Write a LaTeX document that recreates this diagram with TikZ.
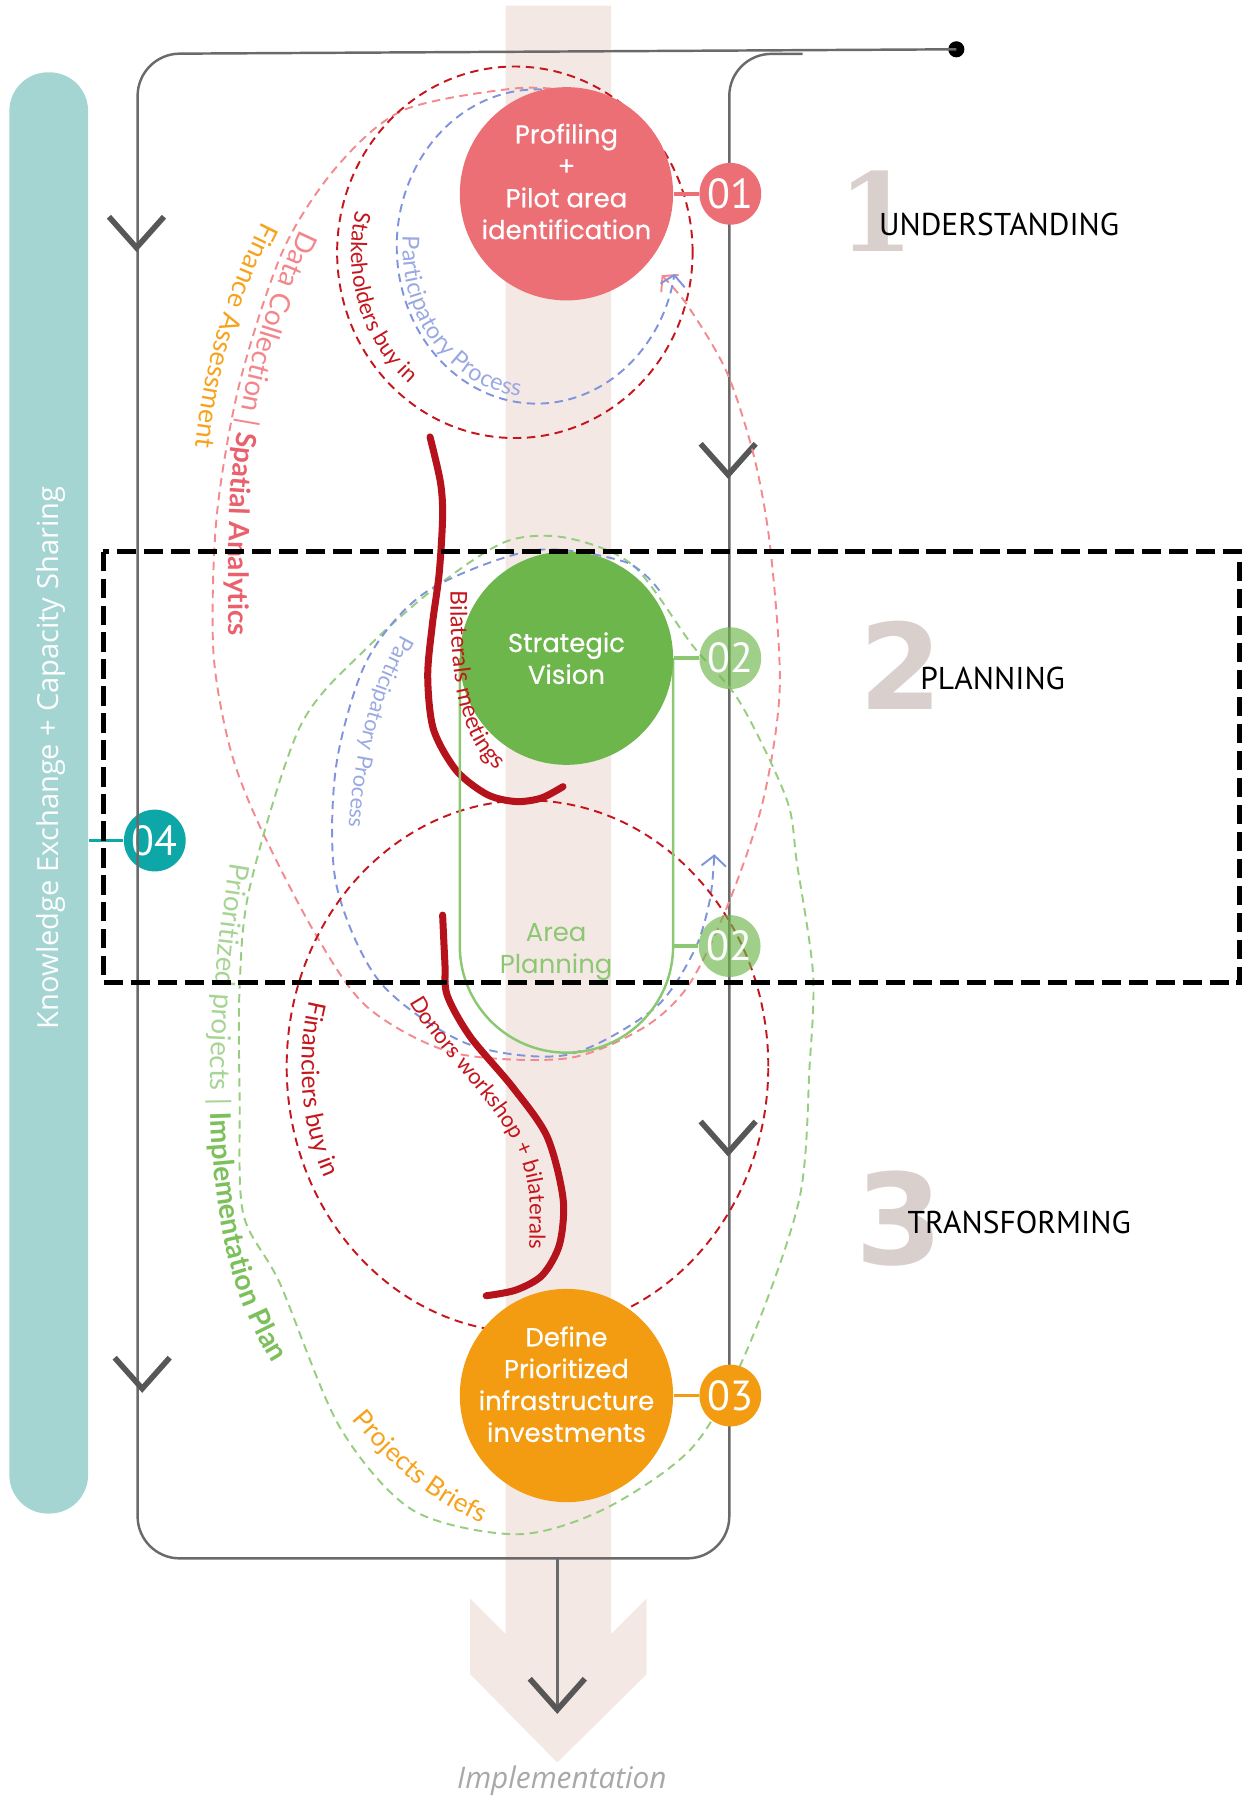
\documentclass[tikz,border=0pt]{standalone}
\usepackage{fontspec}
\setmainfont{Poppins}
\newfontfamily\stagefont{Poppins}[FakeBold=0.5]
\newfontfamily\labelfont{Lato}
\newfontfamily\headfont{PT Sans}
\newfontfamily\sidefont{Open Sans}
\newfontfamily\onefont{DejaVu Serif}
\newfontfamily\numfont{DejaVu Sans}
\usetikzlibrary{positioning,arrows.meta,decorations.text}

\definecolor{bandpink}{HTML}{F3E8E4}
\definecolor{prred}{HTML}{EC6F75}
\definecolor{svgreen}{HTML}{6DB64B}
\definecolor{apgreen}{HTML}{8CC772}
\definecolor{orng}{HTML}{F39C11}
\definecolor{tealbar}{HTML}{A4D5D3}
\definecolor{tealdark}{HTML}{0DA7A7}
\definecolor{numgray}{HTML}{D9CFCC}
\definecolor{chevgray}{HTML}{575757}
\definecolor{loopgray}{HTML}{6A6A6A}
\definecolor{dred}{HTML}{C4161C}
\definecolor{thickred}{HTML}{B5121B}
\definecolor{pinkdash}{HTML}{F28A8E}
\definecolor{pinktxt}{HTML}{F2868B}
\definecolor{pinkbold}{HTML}{E9616C}
\definecolor{bluedash}{HTML}{8094DC}
\definecolor{bluetxt}{HTML}{9AA9E2}
\definecolor{greendash}{HTML}{96CD7E}
\definecolor{greenlt}{HTML}{A6D494}
\definecolor{greenbold}{HTML}{7CC05C}
\definecolor{orngtxt}{HTML}{F7A21D}
\definecolor{impgray}{HTML}{A8A8A8}

\tikzset{
  stagecircle/.style={circle, minimum size=2.14cm, inner sep=0pt, text=white, align=center, font=\stagefont\fontsize{7.4}{9.1}\selectfont},
  stagetext/.style={text=white, align=center, inner sep=0pt, font=\stagefont\fontsize{7.4}{9.1}\selectfont},
  badge/.style={circle, minimum size=0.62cm, inner sep=0pt, text=white, font=\headfont\fontsize{12}{12}\selectfont},
  softbadge/.style={badge, fill=svgreen, fill opacity=0.65, text opacity=1},
  thindash/.style={line width=0.55pt, dash pattern=on 2.4pt off 1.6pt},
  chevron/.style={draw=chevgray, line width=1.6pt},
  loopline/.style={draw=loopgray, line width=0.7pt},
  heading/.style={font=\headfont\fontsize{9}{9}\selectfont, anchor=base west, inner sep=0pt},
  bignum/.style={text=numgray, inner sep=0pt},
  meeting/.style={draw=thickred, line width=2pt, line cap=round},
  barb/.style={-{Straight Barb[length=3pt,width=7pt]}},
  boxdash/.style={line width=1.4pt, dash pattern=on 5.5pt off 2.2pt}
}

\begin{document}
\begin{tikzpicture}[x=0.0115cm, y=0.0115cm]
    \useasboundingbox (0,0) rectangle (1088,-1568);
    % Implementation band with arrow head
    \fill[bandpink] (441,-5) -- (533,-5) -- (533,-1425) -- (564,-1394) -- (564,-1460) -- (486,-1537)
        -- (410,-1460) -- (410,-1394) -- (441,-1425) -- cycle;
    \node[text=impgray, font=\sidefont\itshape\fontsize{8.5}{8.5}\selectfont] (impl) at (490,-1553) {Implementation};
    % Knowledge exchange bar
    \node[fill=tealbar, rounded corners=11pt, minimum width=0.79cm, minimum height=14.46cm, inner sep=0pt] (kbar) at (42.5,-691.5) {};
    \node[rotate=90, text=white, font=\sidefont\fontsize{8.3}{8.3}\selectfont] (kxlabel) at (44,-661) {Knowledge Exchange + Capacity Sharing};
    \node[badge, fill=tealdark] (b4) at (135,-733) {04};
    \draw[tealdark, line width=1pt] (kbar.east |- b4) -- (b4);
    % Stage headings
    \node[bignum, font=\onefont\bfseries\fontsize{31}{31}\selectfont] (n1) at (764,-184) {1};
    \node[heading] (h1) at (766,-205) {UNDERSTANDING};
    \node[bignum, font=\numfont\bfseries\fontsize{34}{34}\selectfont] (n2) at (786,-580) {2};
    \node[heading] (h2) at (802,-601) {PLANNING};
    \node[bignum, font=\numfont\bfseries\fontsize{36}{36}\selectfont] (n3) at (784,-1063) {3};
    \node[heading] (h3) at (791,-1076) {TRANSFORMING};
    % Main loop
    \coordinate (start) at (834,-43);
    \coordinate (exit) at (486,-1359);
    \coordinate (tip) at (486,-1491);
    \fill[black] (start) circle (2.3pt);
    \draw[loopline, rounded corners=12pt] (start) -- (120,-47) -- (120,-1359) -- (636,-1359) -- (636,-47) -- (700,-47);
    \draw[loopline] (exit) -- (tip);
    \foreach \cx/\cy in {119/216, 635/414, 635/1005, 124/1211, 486/1491}
        \draw[chevron] (\cx-24,-\cy+27) -- (\cx,-\cy) -- (\cx+24,-\cy+27);
    % Dashed loops
    \draw[thindash, draw=pinkdash, barb] plot[smooth] coordinates {(505,-80) (450,-77) (352,-96) (294,-145) (247,-218) (209,-334) (189,-450) (186,-567) (200,-650) (224,-715) (273,-811) (320,-878) (395,-918) (494,-923) (560,-897) (600,-860) (634,-791) (665,-700) (680,-600) (672,-480) (658,-400) (634,-325) (600,-267) (577,-240)};
    \draw[thindash, draw=dred] (449,-220) ellipse [x radius=155, y radius=162];
    \draw[thindash, draw=bluedash, barb] (468,-215) ++(65:122 and 137) arc[start angle=65, end angle=350, x radius=122, y radius=137];
    \draw[thindash, draw=greendash] plot[smooth cycle] coordinates {(494,-469) (552,-493) (604,-563) (645,-612) (686,-697) (695,-753) (709,-849) (706,-930) (697,-1046) (652,-1176) (604,-1262) (527,-1316) (451,-1338) (360,-1317) (296,-1244) (244,-1119) (212,-1058) (209,-960) (209,-860) (218,-773) (262,-633) (320,-565) (384,-509) (442,-472)};
    \draw[thindash, draw=bluedash, barb] plot[smooth] coordinates {(575,-515) (545,-490) (465,-480) (372,-516) (320,-576) (293,-669) (293,-770) (331,-856) (407,-910) (494,-920) (570,-880) (605,-830) (619,-785) (623,-745)};
    \draw[thindash, draw=dred] (460,-930) ellipse [x radius=210, y radius=232];
    % Meetings
    \draw[meeting] plot[smooth] coordinates {(375,-381) (384,-420) (386,-450) (383,-500) (377,-545) (373,-590) (378,-636) (398,-672) (425,-693) (450,-699) (472,-696) (491,-686)};
    \draw[meeting] plot[smooth] coordinates {(386,-798) (388,-840) (390,-868) (410,-904) (447,-948) (477,-991) (491,-1045) (488,-1085) (473,-1112) (450,-1125) (424,-1130)};
    % Stages
    \node[stagecircle, fill=prred] (pr) at (494,-169) {};
    \node[stagetext] (prtext) at ([yshift=3.5pt]pr.center) {Profiling\\+\\Pilot area\\identification};
    \node[badge, fill=prred, right=0.25cm of pr] (b1) {01};
    \draw[prred, line width=1pt] (pr) -- (b1);
    \draw[apgreen, line width=0.7pt] (494,-574) ++(-93,0) coordinate (uw) -- ++(0,-251) arc[start angle=180, end angle=360, radius=93] coordinate (ue) -- ++(0,251);
    \node[stagecircle, fill=svgreen] (sv) at (494,-574) {Strategic\\Vision};
    \node[text=apgreen, align=center, font=\fontsize{7.4}{9.1}\selectfont] (ap) at (485,-830) {Area\\Planning};
    \node[softbadge, right=0.25cm of sv] (b2) {02};
    \node[softbadge, right=0.25cm of ue] (b2b) {02};
    \draw[apgreen, line width=1pt] (sv) -- (b2);
    \draw[apgreen, line width=1pt] (ue) -- (b2b);
    \node[stagecircle, fill=orng] (dp) at (494,-1217) {};
    \node[stagetext] (dptext) at ([yshift=3.2pt]dp.center) {Define\\Prioritized\\infrastructure\\investments};
    \node[badge, fill=orng, right=0.25cm of dp] (b3) {03};
    \draw[orng, line width=1pt] (dp) -- (b3);
    % Labels along the loops
    \path[decorate, decoration={text along path, text={|\labelfont\fontsize{6.3}{6.3}\selectfont\color{dred}|Stakeholders buy in}}]
        (449,-220) ++(166:143 and 150) arc[start angle=166, end angle=250, x radius=143, y radius=150];
    \path[decorate, decoration={text along path, text={|\labelfont\fontsize{6.7}{6.7}\selectfont\color{bluetxt}|Participatory Process}}]
        (468,-215) ++(176:117 and 132) arc[start angle=176, end angle=300, x radius=117, y radius=132];
    \path[decorate, decoration={text along path, text={|\labelfont\fontsize{8}{8}\selectfont\color{pinktxt}|Data Collection {\textbar} |\labelfont\bfseries\fontsize{8}{8}\selectfont\color{pinkbold}|Spatial Analytics}}]
        (262,-200) .. controls (232,-262) and (203,-350) .. (200,-450) .. controls (198,-520) and (200,-580) .. (201,-660);
    \path[decorate, decoration={text along path, text={|\labelfont\fontsize{7.6}{7.6}\selectfont\color{orngtxt}|Finance Assessment}}]
        (229,-193) .. controls (200,-250) and (168,-330) .. (166,-460);
    \path[decorate, decoration={text along path, text={|\labelfont\fontsize{6.6}{6.6}\selectfont\color{dred}|Bilaterals meetings}}]
        (393,-515) .. controls (391,-615) and (409,-686) .. (482,-688);
    \path[decorate, decoration={text along path, text={|\labelfont\fontsize{6.2}{6.2}\selectfont\color{bluetxt}|Participatory Process}}]
        (350,-553) .. controls (318,-610) and (300,-680) .. (302,-800);
    \path[decorate, decoration={text along path, text={|\labelfont\fontsize{7.9}{7.9}\selectfont\color{greenlt}|Prioritized projects {\textbar} |\labelfont\bfseries\fontsize{8.1}{8.1}\selectfont\color{greenbold}|Implementation Plan}}]
        (201,-752) .. controls (180,-880) and (175,-1000) .. (200,-1100) .. controls (215,-1160) and (250,-1220) .. (300,-1260);
    \path[decorate, decoration={text along path, text={|\labelfont\fontsize{7}{7}\selectfont\color{dred}|Financiers buy in}}]
        (460,-930) ++(165:197 and 222) arc[start angle=165, end angle=240, x radius=197, y radius=222];
    \path[decorate, decoration={text along path, text={|\labelfont\fontsize{6.3}{6.3}\selectfont\color{dred}|Donors workshop + bilaterals}}]
        (357,-874) .. controls (394,-940) and (458,-972) .. (462,-1050) -- (461,-1140);
    \path[decorate, decoration={text along path, text={|\labelfont\fontsize{7.5}{7.5}\selectfont\color{orngtxt}|Projects Briefs}}]
        (307,-1238) .. controls (350,-1290) and (400,-1330) .. (480,-1348);
    % Planning frame
    \draw[boxdash] (90,-481) rectangle (1081,-857);
\end{tikzpicture}
\end{document}
